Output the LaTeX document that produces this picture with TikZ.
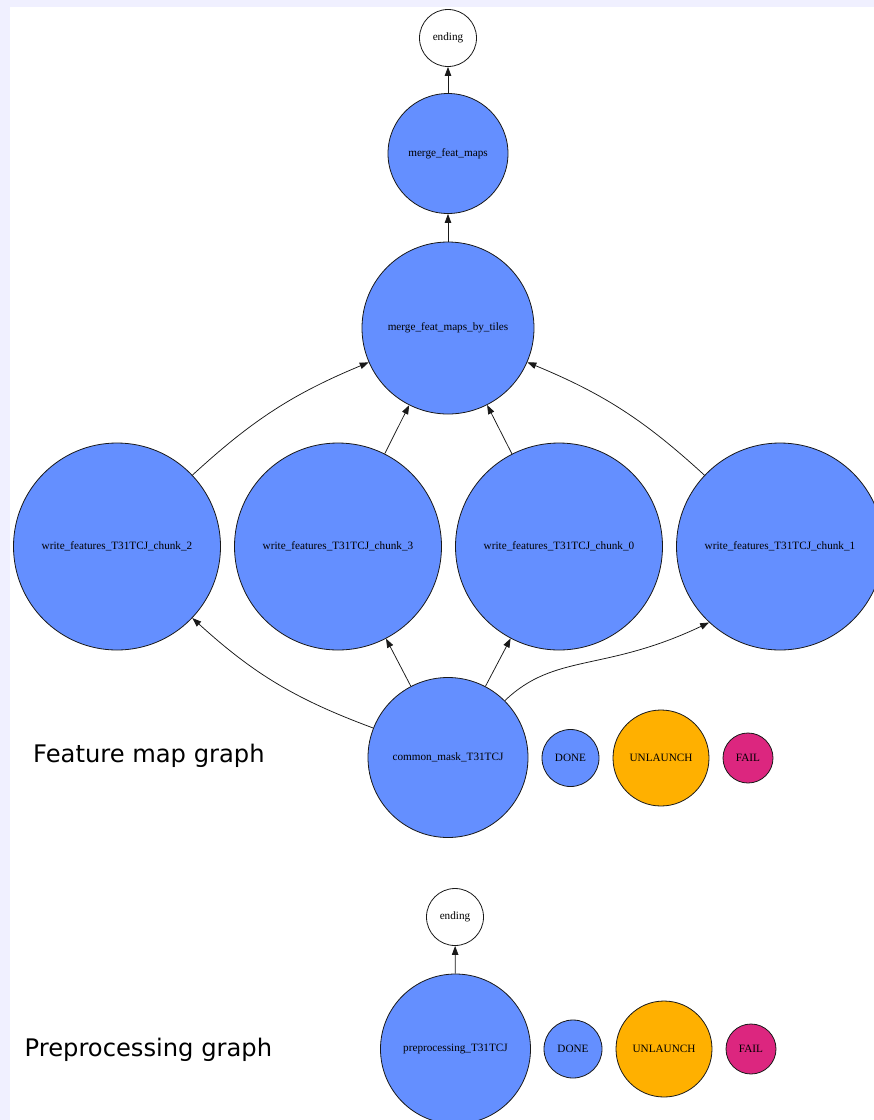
\documentclass[tikz,border=0pt]{standalone}
\usepackage{fontspec}
\setmainfont{Liberation Serif}
\newfontfamily\titlefont{DejaVu Sans}
\usetikzlibrary{arrows.meta}
\definecolor{doneblue}{RGB}{100,143,255}
\definecolor{unlorange}{RGB}{255,176,0}
\definecolor{failpink}{RGB}{220,38,127}
\definecolor{lavender}{RGB}{240,240,255}
\definecolor{edgegray}{RGB}{25,25,25}
\tikzset{
  x=1pt,y=1pt,
  task/.style={circle,draw=edgegray,line width=0.8pt,inner sep=0pt,
    font=\fontsize{11.2}{13}\selectfont,text=black},
  bluetask/.style={task,fill=doneblue},
  whitetask/.style={task,fill=white},
  orangetask/.style={task,fill=unlorange},
  pinktask/.style={task,fill=failpink},
  dep/.style={draw=edgegray,line width=0.75pt,-{Triangle[length=9pt,width=6.5pt]}},
  gtitle/.style={font=\titlefont\fontsize{24.2}{29}\selectfont,anchor=base west,inner sep=0pt}
}
\begin{document}
\begin{tikzpicture}
\useasboundingbox (0,0) rectangle (874,-1120);
\fill[lavender] (0,0) rectangle (874,-1120);
\fill[white] (10,-7) rectangle (874,-1120);

% Feature map graph
\node[whitetask,minimum size=57pt] (end1) at (448,-38) {ending};
\node[bluetask,minimum size=120pt] (merge) at (448,-153.5) {merge\_feat\_maps};
\node[bluetask,minimum size=172pt] (tiles) at (448,-328) {merge\_feat\_maps\_by\_tiles};
\node[bluetask,minimum size=207pt] (c2) at (117,-546.5) {write\_features\_T31TCJ\_chunk\_2};
\node[bluetask,minimum size=207pt] (c3) at (338,-546.5) {write\_features\_T31TCJ\_chunk\_3};
\node[bluetask,minimum size=207pt] (c0) at (559,-546.5) {write\_features\_T31TCJ\_chunk\_0};
\node[bluetask,minimum size=207pt] (c1) at (780,-546.5) {write\_features\_T31TCJ\_chunk\_1};
\node[bluetask,minimum size=160pt] (cm) at (448,-757.5) {common\_mask\_T31TCJ};
\node[bluetask,minimum size=57pt] (done1) at (570.5,-758) {DONE};
\node[orangetask,minimum size=96pt] (unl1) at (661,-758) {UNLAUNCH};
\node[pinktask,minimum size=50pt] (fail1) at (748,-758) {FAIL};
\node[gtitle] (t1) at (33,-762) {Feature map graph};

\draw[dep] (merge) -- (end1);
\draw[dep] (tiles) -- (merge);
\draw[dep] (c2) to[bend left=10] (tiles);
\draw[dep] (c3) -- (tiles);
\draw[dep] (c0) -- (tiles);
\draw[dep] (c1) to[bend right=10] (tiles);
\draw[dep] (cm) to[bend left=11] (c2);
\draw[dep] (cm) -- (c3);
\draw[dep] (cm) -- (c0);
\draw[dep] (cm.45) .. controls +(50,48) and +(-105,-50) .. (c1.227);

% Preprocessing graph
\node[whitetask,minimum size=57pt] (end2) at (455,-917) {ending};
\node[bluetask,minimum size=150pt] (pre) at (455.5,-1049) {preprocessing\_T31TCJ};
\node[bluetask,minimum size=58pt] (done2) at (573,-1049) {DONE};
\node[orangetask,minimum size=96pt] (unl2) at (664,-1049) {UNLAUNCH};
\node[pinktask,minimum size=50pt] (fail2) at (751,-1049) {FAIL};
\node[gtitle] (t2) at (24.5,-1056) {Preprocessing graph};

\draw[dep] (pre) -- (end2);
\end{tikzpicture}
\end{document}
